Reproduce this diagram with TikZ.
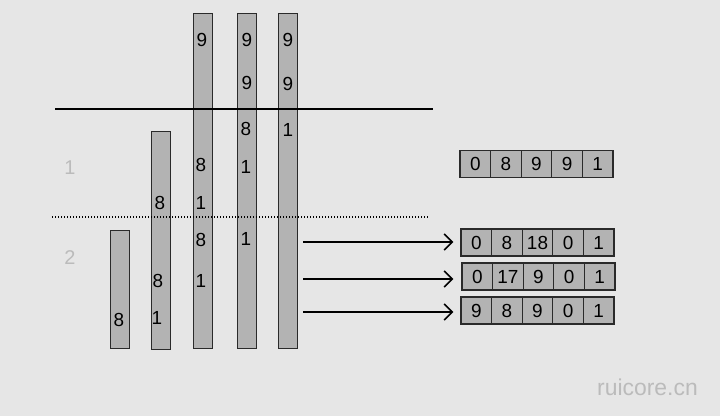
\documentclass[tikz,border=0pt]{standalone}
\usepackage{fontspec}
\setmainfont{Liberation Sans}
\usepackage{xcolor}
\usepackage{tikz}
\usetikzlibrary{positioning, arrows.meta, calc}
\definecolor{bggray}{HTML}{E6E6E6}
\definecolor{bargray}{HTML}{B3B3B3}
\definecolor{edgegray}{HTML}{2A2A2A}
\definecolor{labelgray}{HTML}{BBBBBB}

\tikzset{
  bar/.style={draw=edgegray, fill=bargray, line width=0.9bp, minimum width=19bp,
              inner sep=0pt, anchor=north west},
  digit/.style={font=\fontsize{19}{19}\selectfont, inner sep=0pt},
  cell/.style={draw=edgegray, fill=bargray, line width=1.3bp, minimum width=30.6bp,
               minimum height=27bp, inner sep=0pt, font=\fontsize{19}{19}\selectfont},
  region/.style={font=\fontsize{20}{20}\selectfont, text=labelgray},
}

\begin{document}
\begin{tikzpicture}[x=1bp, y=-1bp]
    \fill[bggray] (0,0) rectangle (720,416);
    \useasboundingbox (0,0) rectangle (720,416);

    % level lines
    \coordinate (topL) at (55,109);
    \coordinate (topR) at (433,109);
    \coordinate (dotL) at (52,217);
    \coordinate (dotR) at (430,217);

    % bars
    \node[bar, minimum height=118bp] (barA) at (110,230) {};
    \node[bar, minimum height=218bp] (barB) at (151,131) {};
    \node[bar, minimum height=335bp] (barC) at (193,13) {};
    \node[bar, minimum height=335bp] (barD) at (237,13) {};
    \node[bar, minimum height=335bp] (barE) at (278,13) {};

    \draw[line width=1.3bp] (topL) -- (topR);
    \draw[line width=1.4bp, dash pattern=on 1.4bp off 1.6bp] (dotL) -- (dotR);

    \node[region] (lvlOne) at (70,168) {1};
    \node[region] (lvlTwo) at (70,258) {2};

    % digits in the bars
    \node[digit] (a1) at (119,320) {8};

    \node[digit] (b1) at (160,203) {8};
    \node[digit] (b2) at (158,281) {8};
    \node[digit] (b3) at (157,318) {1};

    \node[digit] (c1) at (202,40) {9};
    \node[digit] (c2) at (201,165) {8};
    \node[digit] (c3) at (201,203) {1};
    \node[digit] (c4) at (201,240) {8};
    \node[digit] (c5) at (201,281) {1};

    \node[digit] (d1) at (247,40) {9};
    \node[digit] (d2) at (247,83) {9};
    \node[digit] (d3) at (246,129) {8};
    \node[digit] (d4) at (246,167) {1};
    \node[digit] (d5) at (246,239) {1};

    \node[digit] (e1) at (288,40) {9};
    \node[digit] (e2) at (288,84) {9};
    \node[digit] (e3) at (288,130) {1};

    % result arrays
    \node[cell] (r0a) at (475.3,164) {0};
    \node[cell, right=-1.3bp of r0a] (r0b) {8};
    \node[cell, right=-1.3bp of r0b] (r0c) {9};
    \node[cell, right=-1.3bp of r0c] (r0d) {9};
    \node[cell, right=-1.3bp of r0d] (r0e) {1};

    \node[cell] (r1a) at (476.3,242.5) {0};
    \node[cell, right=-1.3bp of r1a] (r1b) {8};
    \node[cell, right=-1.3bp of r1b] (r1c) {18};
    \node[cell, right=-1.3bp of r1c] (r1d) {0};
    \node[cell, right=-1.3bp of r1d] (r1e) {1};

    \node[cell] (r2a) at (477.3,276.5) {0};
    \node[cell, right=-1.3bp of r2a] (r2b) {17};
    \node[cell, right=-1.3bp of r2b] (r2c) {9};
    \node[cell, right=-1.3bp of r2c] (r2d) {0};
    \node[cell, right=-1.3bp of r2d] (r2e) {1};

    \node[cell] (r3a) at (476.3,310.5) {9};
    \node[cell, right=-1.3bp of r3a] (r3b) {8};
    \node[cell, right=-1.3bp of r3b] (r3c) {9};
    \node[cell, right=-1.3bp of r3c] (r3d) {0};
    \node[cell, right=-1.3bp of r3d] (r3e) {1};

    % arrows
    \coordinate (s1) at (303,242);
    \coordinate (s2) at (303,279);
    \coordinate (s3) at (303,312);
    \draw[-{Straight Barb[length=8bp, width=16bp]}, line width=1.6bp, shorten >=7bp]
      (s1) -- (s1 -| r1a.west);
    \draw[-{Straight Barb[length=8bp, width=16bp]}, line width=1.6bp, shorten >=8bp]
      (s2) -- (s2 -| r2a.west);
    \draw[-{Straight Barb[length=8bp, width=16bp]}, line width=1.6bp, shorten >=7bp]
      (s3) -- (s3 -| r3a.west);

    \node[text=labelgray, font=\fontsize{23}{23}\selectfont] (mark) at (647.5,387) {ruicore.cn};
  \end{tikzpicture}
\end{document}
